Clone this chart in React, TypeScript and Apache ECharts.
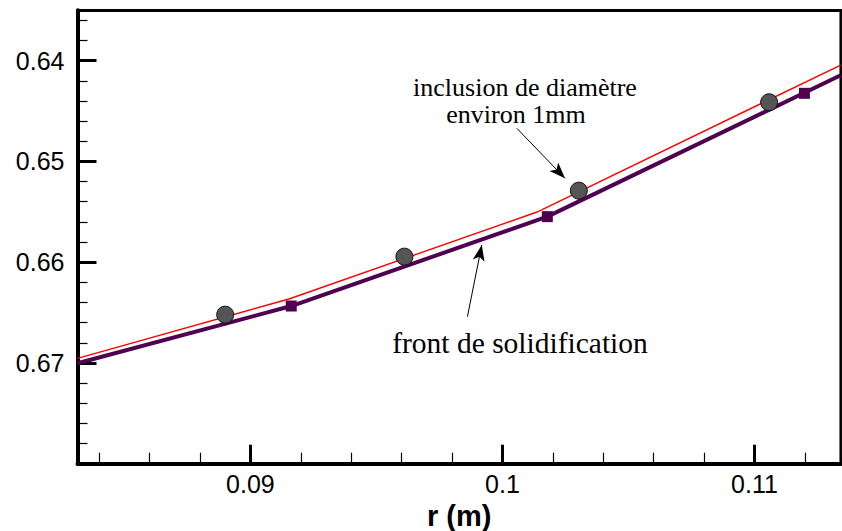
import React, { useEffect, useRef } from "react";
import * as echarts from "echarts";

// ---- data ----
const frontX = [0.08314, 0.09162, 0.10178, 0.11342];
const frontY = [0.67003, 0.66435, 0.65548, 0.64145];
const squareX = [0.09162, 0.10178, 0.11198];
const squareY = [0.66435, 0.65548, 0.64324];
const inclusionLineX = [0.08314, 0.09153, 0.10137, 0.11342];
const inclusionLineY = [0.66954, 0.66365, 0.65502, 0.64043];
const circleX = [0.089, 0.09611, 0.10303, 0.11058];
const circleY = [0.66521, 0.65945, 0.6529, 0.64413];

const xMajor = [0.09, 0.1, 0.11];
const xMinor = [0.084, 0.086, 0.088, 0.092, 0.094, 0.096, 0.098, 0.102, 0.104, 0.106, 0.108, 0.112];
const yMajor = [0.64, 0.65, 0.66, 0.67];
const yMinor = [0.636, 0.638, 0.642, 0.644, 0.646, 0.648, 0.652, 0.654, 0.656, 0.658, 0.662, 0.664, 0.666, 0.668, 0.672, 0.674, 0.676, 0.678];

const xRange = [0.08314, 0.11342];
const yRange = [0.635, 0.68];

// annotation arrows [fromX, fromY, toX, toY]
const arrowInclusion = [0.10057, 0.64671, 0.10248, 0.65167];
const arrowFront = [0.09861, 0.66541, 0.09918, 0.65829];

const zip = (xs: number[], ys: number[]) => xs.map((x, i) => [x, ys[i]]);

export default function App() {
  const ref = useRef<HTMLDivElement>(null);
  useEffect(() => {
    if (!ref.current) return;
    const chart = echarts.init(ref.current, null, { renderer: "svg" });
    const sans = "'Liberation Sans', Arial, Helvetica, sans-serif";
    const serif = "'Liberation Serif', 'Times New Roman', serif";
    const grid = {
      left: 77.5, right: 1.3, top: 10.3, bottom: 67.3,
      show: true, borderColor: "#000", borderWidth: 2.5,
      containLabel: false, outerBoundsMode: "none",
    };
    chart.setOption({
      animation: false,
      backgroundColor: "#fff",
      grid,
      xAxis: [
        {
          type: "value",
          min: xRange[0],
          max: xRange[1],
          position: "bottom",
          name: "r (m)",
          nameLocation: "middle",
          nameGap: 34,
          nameTextStyle: { fontFamily: sans, fontSize: 29, fontWeight: "bold", color: "#000" },
          axisLine: { show: true, onZero: false, lineStyle: { color: "#000", width: 4 } },
          axisTick: { show: true, inside: true, length: 19, lineStyle: { color: "#000", width: 3 }, customValues: xMajor },
          axisLabel: { show: true, margin: 8, fontFamily: sans, fontSize: 25, color: "#000", customValues: xMajor, formatter: (v: number) => String(v) },
          splitLine: { show: false },
        },
        {
          type: "value",
          min: xRange[0],
          max: xRange[1],
          position: "bottom",
          axisLine: { show: false },
          axisTick: { show: true, inside: true, length: 11, lineStyle: { color: "#000", width: 1.2 }, customValues: xMinor },
          axisLabel: { show: false },
          splitLine: { show: false },
        },
        {
          type: "value",
          min: xRange[0],
          max: xRange[1],
          position: "top",
          axisLine: { show: true, onZero: false, lineStyle: { color: "#000", width: 3 } },
          axisTick: { show: false },
          axisLabel: { show: false },
          splitLine: { show: false },
        },
      ],
      yAxis: [
        {
          type: "value",
          inverse: true,
          min: yRange[0],
          max: yRange[1],
          position: "left",
          axisLine: { show: true, onZero: false, lineStyle: { color: "#000", width: 4 } },
          axisTick: { show: true, inside: true, length: 19, lineStyle: { color: "#000", width: 3 }, customValues: yMajor },
          axisLabel: { show: true, margin: 13, fontFamily: sans, fontSize: 25, color: "#000", customValues: yMajor, formatter: (v: number) => v.toFixed(2) },
          splitLine: { show: false },
        },
        {
          type: "value",
          inverse: true,
          min: yRange[0],
          max: yRange[1],
          position: "left",
          axisLine: { show: false },
          axisTick: { show: true, inside: true, length: 10, lineStyle: { color: "#000", width: 1.2 }, customValues: yMinor },
          axisLabel: { show: false },
          splitLine: { show: false },
        },
      ],
      series: [
        {
          type: "line",
          name: "inclusion",
          data: zip(inclusionLineX, inclusionLineY),
          showSymbol: false,
          lineStyle: { color: "#ff0000", width: 1.4 },
          z: 2,
          silent: true,
          markLine: {
            silent: true,
            symbol: ["none", "arrow"],
            symbolSize: [9, 16],
            label: { show: false },
            lineStyle: { color: "#000", width: 1, type: "solid" },
            data: [
              [{ coord: [arrowInclusion[0], arrowInclusion[1]] }, { coord: [arrowInclusion[2], arrowInclusion[3]] }],
              [{ coord: [arrowFront[0], arrowFront[1]] }, { coord: [arrowFront[2], arrowFront[3]] }],
            ],
          },
        },
        {
          type: "line",
          name: "front",
          data: zip(frontX, frontY),
          showSymbol: false,
          lineStyle: { color: "#500050", width: 4 },
          z: 3,
          silent: true,
        },
        {
          type: "scatter",
          name: "front points",
          data: zip(squareX, squareY),
          symbol: "rect",
          symbolSize: 11,
          itemStyle: { color: "#500050", opacity: 1 },
          z: 4,
          silent: true,
        },
        {
          type: "scatter",
          name: "inclusions",
          data: zip(circleX, circleY),
          symbol: "circle",
          symbolSize: 17,
          itemStyle: { color: "#555555", borderColor: "#111", borderWidth: 1, opacity: 1 },
          z: 5,
          silent: true,
        },
      ],
      graphic: [
        { type: "text", x: 525, y: 87.5, style: { text: "inclusion de diamètre", font: `26px ${serif}`, fill: "#000", align: "center", verticalAlign: "middle" } },
        { type: "text", x: 516, y: 114, style: { text: "environ 1mm", font: `26px ${serif}`, fill: "#000", align: "center", verticalAlign: "middle" } },
        { type: "text", x: 520, y: 342.7, style: { text: "front de solidification", font: `29.5px ${serif}`, fill: "#000", align: "center", verticalAlign: "middle" } },
      ],
    });
    return () => chart.dispose();
  }, []);
  return <div ref={ref} style={{ position: "absolute", left: 0, top: 0, width: 842, height: 531 }} />;
}
